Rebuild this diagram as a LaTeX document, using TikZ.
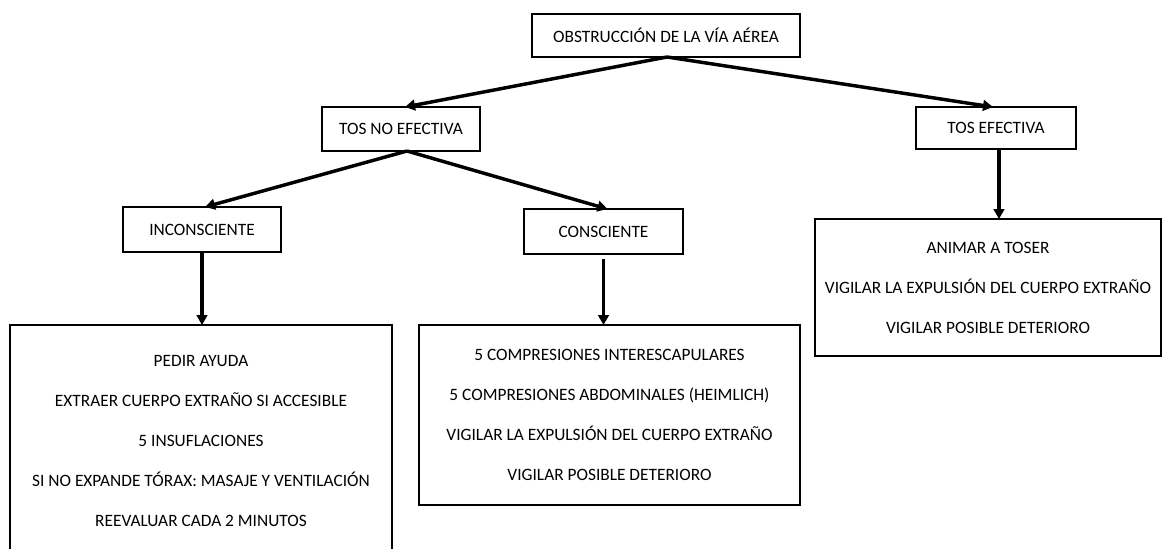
\documentclass[tikz,border=0pt]{standalone}
\usepackage{fontspec}
\setmainfont{Carlito}
\usetikzlibrary{arrows.meta}
\begin{document}
\begin{tikzpicture}[x=0.75pt,y=-0.75pt,
  box/.style={draw=black,line width=2.2pt,inner sep=0pt,outer sep=0pt,align=center,
    font=\fontsize{13}{30}\selectfont},
  arr/.style={line width=2.6pt,-{Triangle[length=7.5pt,width=8pt]}}]
\useasboundingbox (0,0) rectangle (1163,549);
\clip (0,0) rectangle (1163,549);
\node[box,minimum width=268*0.75pt,minimum height=43*0.75pt] (top) at (666,35.5) {OBSTRUCCIÓN DE LA VÍA AÉREA};
\node[box,minimum width=158*0.75pt,minimum height=44*0.75pt] (tne) at (401,129) {TOS NO EFECTIVA};
\node[box,minimum width=160*0.75pt,minimum height=42*0.75pt] (te) at (996,128) {TOS EFECTIVA};
\node[box,minimum width=158*0.75pt,minimum height=45*0.75pt] (inc) at (202,229.5) {INCONSCIENTE};
\node[box,minimum width=159*0.75pt,minimum height=45*0.75pt] (con) at (603.5,231.5) {CONSCIENTE};
\node[box,minimum width=382*0.75pt,minimum height=232*0.75pt] (b1) at (201,441) {PEDIR AYUDA\\EXTRAER CUERPO EXTRAÑO SI ACCESIBLE\\5 INSUFLACIONES\\SI NO EXPANDE TÓRAX: MASAJE Y VENTILACIÓN\\REEVALUAR CADA 2 MINUTOS};
\node[box,minimum width=381*0.75pt,minimum height=180*0.75pt] (b2) at (609.5,415) {5 COMPRESIONES INTERESCAPULARES\\5 COMPRESIONES ABDOMINALES (HEIMLICH)\\VIGILAR LA EXPULSIÓN DEL CUERPO EXTRAÑO\\VIGILAR POSIBLE DETERIORO};
\node[box,minimum width=346*0.75pt,minimum height=137*0.75pt] (b3) at (988,287.5) {ANIMAR A TOSER\\VIGILAR LA EXPULSIÓN DEL CUERPO EXTRAÑO\\VIGILAR POSIBLE DETERIORO};
\draw[arr] ([xshift=0.75pt]top.south) -- ([xshift=3pt]tne.north);
\draw[arr] ([xshift=0.75pt]top.south) -- ([xshift=-2.25pt]te.north);
\draw[arr] ([xshift=4.5pt]tne.south) -- ([xshift=2.25pt]inc.north);
\draw[arr] ([xshift=4.5pt]tne.south) -- ([xshift=3pt]con.north);
\draw[arr] (inc.south) -- (inc.south |- b1.north);
\draw[arr] ([yshift=-4pt]con.south) -- (con.south |- b2.north);
\draw[arr] ([xshift=2.25pt]te.south) -- ([xshift=2.25pt]te.south |- b3.north);
\end{tikzpicture}
\end{document}
